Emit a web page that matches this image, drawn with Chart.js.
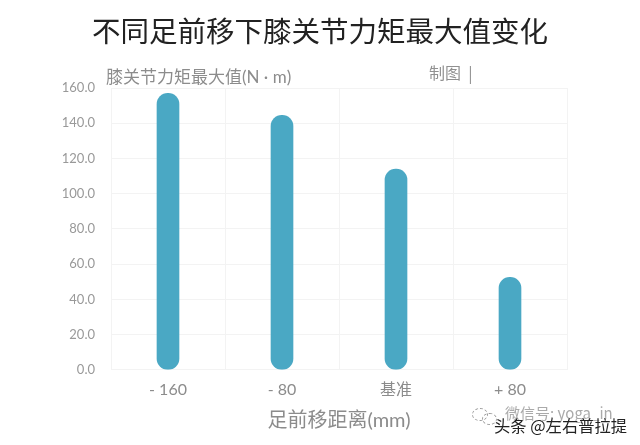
<!DOCTYPE html>
<html lang="zh">
<head>
    <meta charset="UTF-8">
    <title>不同足前移下膝关节力矩最大值变化</title>
    <script src="https://cdn.jsdelivr.net/npm/chart.js"></script>
    <style>
        html, body { margin: 0; padding: 0; background: #fff; overflow: hidden; }
        #wrap { position: relative; width: 640px; height: 445px; font-family: "Noto Sans CJK SC", sans-serif; }
        canvas { display: block; }
        .note { position: absolute; white-space: pre; line-height: 1; }
        #mainTitle { left: 0; width: 640px; top: 16px; text-align: center; font-size: 28.5px; color: #222; }
        #yName { left: 106px; top: 68px; font-family: "Lato", "Noto Sans CJK SC", sans-serif; font-size: 17px; color: #8c8c8c; }
        #madeBy { left: 429px; top: 64px; font-size: 16px; color: #909090; }
        #wx { left: 505px; top: 405px; font-size: 15px; color: #aaa; }
        #toutiao { left: 494px; top: 417px; font-size: 16.3px; color: #222; text-shadow: 0 0 2px #fff; }
        .ring { position: absolute; border: 1px dashed #999; border-radius: 50%; }
        #ringA { left: 472px; top: 408px; width: 14px; height: 11px; }
        #ringB { left: 482px; top: 413px; width: 13px; height: 10px; }
    </style>
</head>
<body>
    <div id="wrap">
        <canvas id="chart" width="640" height="445"></canvas>
        <span class="note" id="mainTitle">不同足前移下膝关节力矩最大值变化</span>
        <span class="note" id="yName">膝关节力矩最大值(N · m)</span>
        <span class="note" id="madeBy">制图  |</span>
        <div class="ring" id="ringA"></div>
        <div class="ring" id="ringB"></div>
        <span class="note" id="wx">微信号: yoga_in</span>
        <span class="note" id="toutiao">头条 @左右普拉提</span>
    </div>

    <script>
        const categories = ['- 160', '- 80', '基准', '+ 80'];
        const momentValues = [157, 144.5, 114, 52.5];
        const yMax = 160;
        const yStep = 20;
        const xAxisName = '足前移距离(mm)';

        const cjk = '"Lato", "Noto Sans CJK SC", sans-serif';
        const gridColor = '#f3f3f3';

        new Chart(document.getElementById('chart'), {
            type: 'bar',
            data: {
                labels: categories,
                datasets: [{
                    data: momentValues,
                    backgroundColor: '#4aa8c4',
                    barThickness: 22,
                    borderRadius: 11,
                    borderSkipped: false
                }]
            },
            options: {
                responsive: false,
                animation: false,
                layout: { padding: { left: 0, right: 73, top: 88, bottom: 12 } },
                plugins: {
                    legend: { display: false },
                    tooltip: { enabled: false }
                },
                scales: {
                    x: {
                        grid: { color: gridColor, drawTicks: false },
                        border: { color: gridColor },
                        ticks: { color: '#8c8c8c', padding: 10, font: { family: cjk, size: 16 } },
                        title: {
                            display: true,
                            text: xAxisName,
                            color: '#8c8c8c',
                            font: { family: cjk, size: 20 },
                            padding: { top: 0, bottom: 0 }
                        }
                    },
                    y: {
                        min: 0,
                        max: yMax,
                        afterFit: scale => { scale.width = 111; },
                        grid: { color: gridColor, drawTicks: false },
                        border: { color: gridColor },
                        ticks: {
                            stepSize: yStep,
                            color: '#999',
                            padding: 16,
                            font: { family: '"Lato", sans-serif', size: 13 },
                            callback: v => v.toFixed(1)
                        }
                    }
                }
            }
        });
    </script>
</body>
</html>
